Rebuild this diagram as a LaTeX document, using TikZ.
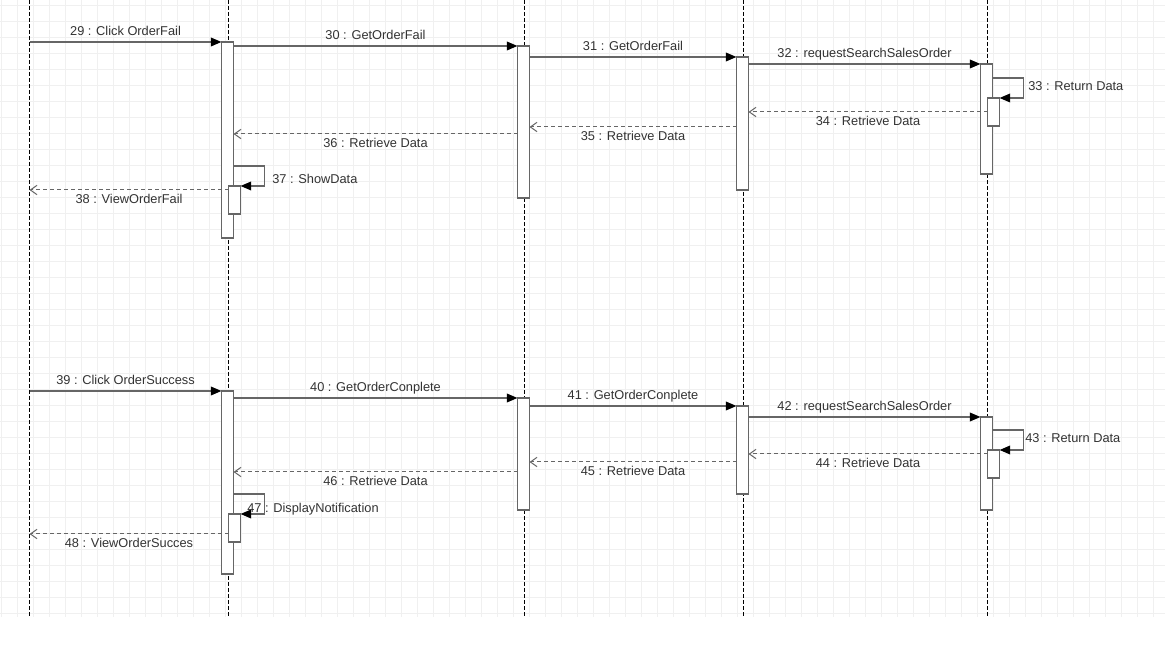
\documentclass[tikz,border=0pt]{standalone}
\usepackage{fontspec}
\setmainfont{Liberation Sans}
\usetikzlibrary{arrows.meta}
\definecolor{linegray}{RGB}{102,102,102}
\definecolor{textgray}{RGB}{51,51,51}
\definecolor{gridgray}{RGB}{240,240,240}
\tikzset{
  lifeline/.style = {black, line width = 0.75pt, dash pattern = on 3pt off 1.5pt},
  gridline/.style = {gridgray, line width = 0.75pt},
  bar/.style = {draw = linegray, fill = white, line width = 1.1pt, minimum width = 9pt,
    minimum height = #1*0.75pt, inner sep = 0pt, outer sep = 0pt, anchor = north},
  call/.style = {draw = linegray, line width = 1.1pt,
    -{Triangle[length = 8pt, width = 6.5pt, color = black]}},
  ret/.style = {draw = linegray, line width = 0.75pt, dash pattern = on 3pt off 2.25pt,
    -{Straight Barb[length = 5pt, width = 7pt]}},
  lbl/.style = {text = textgray, font = \fontsize{9.6}{11}\selectfont, inner sep = 0pt},
  above lbl/.style = {lbl, midway, anchor = base, yshift = 4.5pt},
  below lbl/.style = {lbl, midway, anchor = base, yshift = -10.5pt}
}
\begin{document}
\begin{tikzpicture}[x = 0.75pt, y = -0.75pt]
    \fill[white] (0,0) rectangle (1165,648);
    \useasboundingbox (0,0) rectangle (1165,648);
    % grid
    \foreach \gx in {1,17,...,1153}
        \draw[gridline] (\gx,0) -- (\gx,617);
    \foreach \gy in {6,22,...,614}
        \draw[gridline] (0,\gy) -- (1165,\gy);
    % lifelines
    \foreach \name/\lx in {user/29.5, form/228.3, control/524.3, model/743.3, db/987.3} {
        \coordinate (\name) at (\lx,0);
        \draw[lifeline] (\name) -- ++(0,617);
    }
    % activation bars
    \node[bar = 196] (a1) at (227.5,42) {};
    \node[bar = 152] (a2) at (523.5,46) {};
    \node[bar = 133] (a3) at (742.5,57) {};
    \node[bar = 110] (a4) at (986.5,64) {};
    \node[bar = 28] (n1) at (234.5,186) {};
    \node[bar = 28] (n4) at (993.5,98) {};
    \node[bar = 183] (b1) at (227.5,391) {};
    \node[bar = 112] (b2) at (523.5,398) {};
    \node[bar = 88] (b3) at (742.5,406) {};
    \node[bar = 93] (b4) at (986.5,417) {};
    \node[bar = 28] (m1) at (234.5,514) {};
    \node[bar = 28] (m4) at (993.5,450) {};
    % order fail
    \draw[call] (user |- a1.north) -- node[above lbl] {29 : Click OrderFail} (a1.north west);
    \draw[call] (a1.east |- a2.north) -- node[above lbl] {30 : GetOrderFail} (a2.north west);
    \draw[call] (a2.east |- a3.north) -- node[above lbl] {31 : GetOrderFail} (a3.north west);
    \draw[call] (a3.east |- a4.north) -- node[above lbl] {32 : requestSearchSalesOrder} (a4.north west);
    \draw[call] (a4.east |- 0,78) -- ++(31,0) |- (n4.north east);
    \node[lbl, anchor = base west] (t33) at (1028,91) {33 : Return Data};
    \draw[ret] (n4.west |- 0,112) -- node[below lbl] {34 : Retrieve Data} (a3.east |- 0,112);
    \draw[ret] (a3.west |- 0,127) -- node[below lbl] {35 : Retrieve Data} (a2.east |- 0,127);
    \draw[ret] (a2.west |- 0,134) -- node[below lbl] {36 : Retrieve Data} (a1.east |- 0,134);
    \draw[call] (a1.east |- 0,166) -- ++(31,0) |- (n1.north east);
    \node[lbl, anchor = base west] (t37) at (272,184) {37 : ShowData};
    \draw[ret] (n1.west |- 0,190) -- node[below lbl] {38 : ViewOrderFail} (user |- 0,190);
    % order success
    \draw[call] (user |- b1.north) -- node[above lbl] {39 : Click OrderSuccess} (b1.north west);
    \draw[call] (b1.east |- b2.north) -- node[above lbl] {40 : GetOrderConplete} (b2.north west);
    \draw[call] (b2.east |- b3.north) -- node[above lbl] {41 : GetOrderConplete} (b3.north west);
    \draw[call] (b3.east |- b4.north) -- node[above lbl] {42 : requestSearchSalesOrder} (b4.north west);
    \draw[call] (b4.east |- 0,430) -- ++(31,0) |- (m4.north east);
    \node[lbl, anchor = base west] (t43) at (1025,443) {43 : Return Data};
    \draw[ret] (m4.west |- 0,454) -- node[below lbl] {44 : Retrieve Data} (b3.east |- 0,454);
    \draw[ret] (b3.west |- 0,462) -- node[below lbl] {45 : Retrieve Data} (b2.east |- 0,462);
    \draw[ret] (b2.west |- 0,472) -- node[below lbl] {46 : Retrieve Data} (b1.east |- 0,472);
    \draw[call] (b1.east |- 0,494) -- ++(31,0) |- (m1.north east);
    \node[lbl, anchor = base west] (t47) at (247,512.5) {47 : DisplayNotification};
    \draw[ret] (m1.west |- 0,534) -- node[below lbl] {48 : ViewOrderSucces} (user |- 0,534);
\end{tikzpicture}
\end{document}
